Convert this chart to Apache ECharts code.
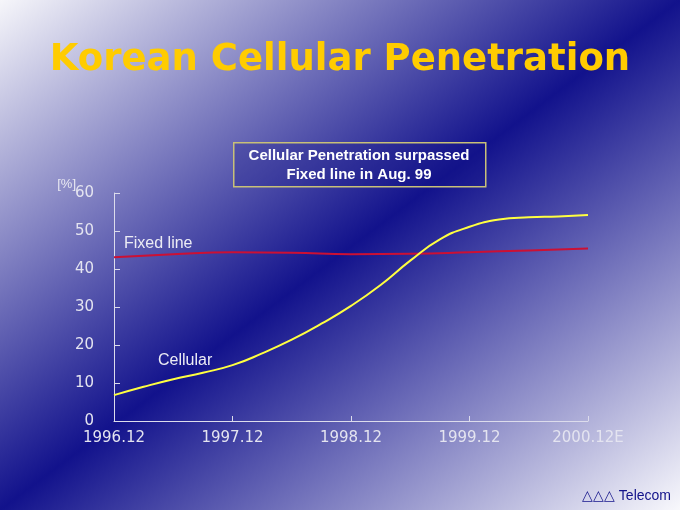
<!DOCTYPE html>
<html><head><meta charset="utf-8">
<script src="https://cdn.jsdelivr.net/npm/echarts@6/dist/echarts.min.js"></script>
<style>
html,body{margin:0;padding:0;width:680px;height:510px;overflow:hidden;}
#c{width:680px;height:510px;background:linear-gradient(to bottom right,#f6f6fa 0%,#12128c 50%,#f8f8fc 100%);}
</style></head>
<body><div id="c"></div>
<script>
var tickLabels = ['1996.12','1997.12','1998.12','1999.12','2000.12E'];
var cellMonths = [0,3,6,9,12,15,18,21,24,27,30,33,36,39,42,45,48];
var cellular   = [6.8,9.0,11.0,12.7,14.7,17.8,21.4,25.6,30.3,35.8,42.2,47.8,51.1,53.0,53.6,53.8,54.2];
var fixedMonths = [0,6,12,18,24,30,36,42,48];
var fixedLine   = [43.1,43.9,44.4,44.3,43.9,44.0,44.4,44.9,45.4];

function pairs(xs, ys){ return xs.map(function(x,i){ return [x, ys[i]]; }); }

var chart = echarts.init(document.getElementById('c'), null, {renderer:'canvas'});
var axisCol = '#dcdcec';
chart.setOption({
  backgroundColor: 'transparent',
  animation: false,
  title: {
    text: 'Korean Cellular Penetration',
    left: 'center', top: 37,
    textStyle: {color:'#ffcc00', fontFamily:'DejaVu Sans', fontWeight:'bold', fontSize:37}
  },
  grid: {left:114, right:92, top:193, bottom:89},
  xAxis: {
    type:'value', min:0, max:48, interval:12,
    axisLine:{show:true, lineStyle:{color:axisCol, width:1}},
    axisTick:{show:true, inside:true, length:5, lineStyle:{color:axisCol}},
    splitLine:{show:false},
    axisLabel:{color:'#e4e4f0', fontFamily:'DejaVu Sans', fontSize:15, margin:10,
      formatter:function(v){ return tickLabels[Math.round(v/12)] || ''; }}
  },
  yAxis: {
    type:'value', min:0, max:60, interval:10,
    name:'[%]', nameLocation:'end', nameGap:15, nameMoveOverlap:false,
    nameTextStyle:{color:'#e8e8f2', fontFamily:'Liberation Sans', fontSize:13, align:'right', verticalAlign:'top', padding:[0,38,0,0]},
    axisLine:{show:true, lineStyle:{color:axisCol, width:1}},
    axisTick:{show:true, inside:true, length:6, lineStyle:{color:axisCol}},
    splitLine:{show:false},
    axisLabel:{color:'#e4e4f0', fontFamily:'DejaVu Sans', fontSize:15, margin:20}
  },
  series: [
    {type:'line', name:'Fixed line', data:pairs(fixedMonths, fixedLine), smooth:0.5, symbol:'none',
     lineStyle:{color:'#cc1034', width:2}},
    {type:'line', name:'Cellular', data:pairs(cellMonths, cellular), smooth:0.5, symbol:'none',
     lineStyle:{color:'#ffff40', width:2}}
  ],
  graphic: [
    {type:'rect', left:233, top:142, shape:{width:252, height:44},
     style:{fill:'rgba(20,20,130,0.25)', stroke:'#c8c078', lineWidth:1.5}},
    {type:'text', x:359, y:146, style:{
      text:'Cellular Penetration surpassed\nFixed line in Aug. 99', align:'center', textAlign:'center',
      fill:'#ffffff', font:'bold 15px "Liberation Sans"', lineHeight:19}},
    {type:'text', left:124, top:236, style:{text:'Fixed line', fill:'#ececf4', font:'16px "Liberation Sans"'}},
    {type:'text', left:158, top:353, style:{text:'Cellular', fill:'#ececf4', font:'16px "Liberation Sans"'}},
    {type:'text', right:9, top:489, style:{text:'△△△ Telecom', fill:'#12128a', font:'14px "Liberation Sans"'}}
  ]
});
</script></body></html>
